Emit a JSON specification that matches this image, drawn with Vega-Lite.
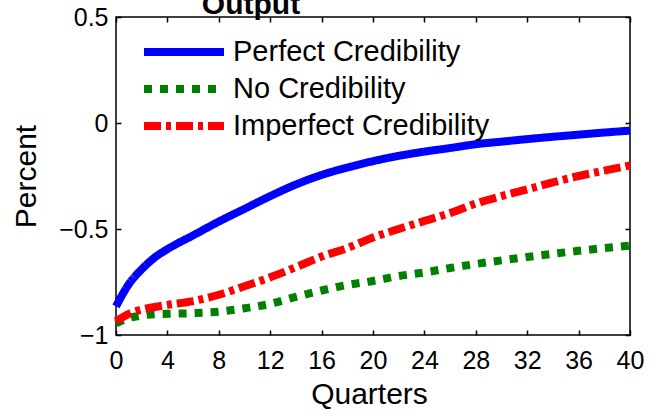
{
  "$schema": "https://vega.github.io/schema/vega-lite/v6.json",
  "width": 514,
  "height": 318,
  "autosize": {"type": "none"},
  "padding": {"left": 116, "top": 17, "right": 29, "bottom": 76},
  "background": "white",
  "config": {
    "view": {"stroke": "black", "strokeWidth": 1.5},
    "font": "Liberation Sans"
  },
  "title": {
    "text": "Output",
    "fontSize": 30,
    "fontWeight": "bold",
    "font": "Liberation Sans",
    "color": "black",
    "anchor": "middle",
    "dx": -122,
    "baseline": "alphabetic",
    "offset": 0,
    "dy": 39
  },
  "data": {
    "values": [
      {"series": "Perfect Credibility", "q": 0, "value": -0.865},
      {"series": "Perfect Credibility", "q": 1, "value": -0.76},
      {"series": "Perfect Credibility", "q": 2, "value": -0.69},
      {"series": "Perfect Credibility", "q": 3, "value": -0.635},
      {"series": "Perfect Credibility", "q": 4, "value": -0.595},
      {"series": "Perfect Credibility", "q": 6, "value": -0.53},
      {"series": "Perfect Credibility", "q": 8, "value": -0.465},
      {"series": "Perfect Credibility", "q": 10, "value": -0.405},
      {"series": "Perfect Credibility", "q": 12, "value": -0.345},
      {"series": "Perfect Credibility", "q": 14, "value": -0.29},
      {"series": "Perfect Credibility", "q": 16, "value": -0.245},
      {"series": "Perfect Credibility", "q": 18, "value": -0.21},
      {"series": "Perfect Credibility", "q": 20, "value": -0.18},
      {"series": "Perfect Credibility", "q": 22, "value": -0.155},
      {"series": "Perfect Credibility", "q": 24, "value": -0.135},
      {"series": "Perfect Credibility", "q": 26, "value": -0.118},
      {"series": "Perfect Credibility", "q": 28, "value": -0.1},
      {"series": "Perfect Credibility", "q": 30, "value": -0.088},
      {"series": "Perfect Credibility", "q": 32, "value": -0.076},
      {"series": "Perfect Credibility", "q": 34, "value": -0.065},
      {"series": "Perfect Credibility", "q": 36, "value": -0.055},
      {"series": "Perfect Credibility", "q": 38, "value": -0.045},
      {"series": "Perfect Credibility", "q": 40, "value": -0.036},
      {"series": "No Credibility", "q": 0, "value": -0.945},
      {"series": "No Credibility", "q": 1, "value": -0.92},
      {"series": "No Credibility", "q": 2, "value": -0.908},
      {"series": "No Credibility", "q": 3, "value": -0.902},
      {"series": "No Credibility", "q": 4, "value": -0.9},
      {"series": "No Credibility", "q": 6, "value": -0.897},
      {"series": "No Credibility", "q": 8, "value": -0.89},
      {"series": "No Credibility", "q": 10, "value": -0.874},
      {"series": "No Credibility", "q": 12, "value": -0.853},
      {"series": "No Credibility", "q": 14, "value": -0.82},
      {"series": "No Credibility", "q": 16, "value": -0.79},
      {"series": "No Credibility", "q": 18, "value": -0.764},
      {"series": "No Credibility", "q": 20, "value": -0.745},
      {"series": "No Credibility", "q": 22, "value": -0.722},
      {"series": "No Credibility", "q": 24, "value": -0.705},
      {"series": "No Credibility", "q": 26, "value": -0.684},
      {"series": "No Credibility", "q": 28, "value": -0.665},
      {"series": "No Credibility", "q": 30, "value": -0.648},
      {"series": "No Credibility", "q": 32, "value": -0.632},
      {"series": "No Credibility", "q": 34, "value": -0.617},
      {"series": "No Credibility", "q": 36, "value": -0.603},
      {"series": "No Credibility", "q": 38, "value": -0.59},
      {"series": "No Credibility", "q": 40, "value": -0.578},
      {"series": "Imperfect Credibility", "q": 0, "value": -0.935},
      {"series": "Imperfect Credibility", "q": 1, "value": -0.9},
      {"series": "Imperfect Credibility", "q": 2, "value": -0.88},
      {"series": "Imperfect Credibility", "q": 3, "value": -0.868},
      {"series": "Imperfect Credibility", "q": 4, "value": -0.858},
      {"series": "Imperfect Credibility", "q": 6, "value": -0.84},
      {"series": "Imperfect Credibility", "q": 8, "value": -0.81},
      {"series": "Imperfect Credibility", "q": 10, "value": -0.77},
      {"series": "Imperfect Credibility", "q": 12, "value": -0.728},
      {"series": "Imperfect Credibility", "q": 14, "value": -0.68},
      {"series": "Imperfect Credibility", "q": 16, "value": -0.63},
      {"series": "Imperfect Credibility", "q": 18, "value": -0.59},
      {"series": "Imperfect Credibility", "q": 20, "value": -0.54},
      {"series": "Imperfect Credibility", "q": 22, "value": -0.5},
      {"series": "Imperfect Credibility", "q": 24, "value": -0.462},
      {"series": "Imperfect Credibility", "q": 26, "value": -0.425},
      {"series": "Imperfect Credibility", "q": 28, "value": -0.38},
      {"series": "Imperfect Credibility", "q": 30, "value": -0.345},
      {"series": "Imperfect Credibility", "q": 32, "value": -0.313},
      {"series": "Imperfect Credibility", "q": 34, "value": -0.28},
      {"series": "Imperfect Credibility", "q": 36, "value": -0.25},
      {"series": "Imperfect Credibility", "q": 38, "value": -0.225},
      {"series": "Imperfect Credibility", "q": 40, "value": -0.2}
    ]
  },
  "resolve": {"axis": {"x": "independent", "y": "independent"}},
  "layer": [
    {
      "mark": {"type": "line", "strokeWidth": 8, "interpolate": "monotone", "strokeCap": "butt"},
      "encoding": {
        "x": {
          "field": "q", "type": "quantitative",
          "scale": {"domain": [0, 40], "nice": false, "zero": false},
          "axis": {
            "values": [0, 4, 8, 12, 16, 20, 24, 28, 32, 36, 40],
            "tickSize": -5, "tickColor": "black", "tickWidth": 1.5,
            "domain": false, "grid": false,
            "labelFontSize": 25, "labelFont": "Liberation Sans", "labelColor": "black",
            "labelPadding": 18, "labelFlush": false,
            "title": "Quarters", "titleFontSize": 30, "titleFont": "Liberation Sans",
            "titleFontWeight": "normal", "titleColor": "black",
            "titleBaseline": "alphabetic", "titleX": 253, "titleY": 68
          }
        },
        "y": {
          "field": "value", "type": "quantitative",
          "scale": {"domain": [-1, 0.5], "nice": false, "zero": false},
          "axis": {
            "values": [-1, -0.5, 0, 0.5], "format": "~g",
            "tickSize": -5, "tickColor": "black", "tickWidth": 1.5,
            "domain": false, "grid": false,
            "labelFontSize": 25, "labelFont": "Liberation Sans", "labelColor": "black",
            "labelPadding": 13,
            "title": "Percent", "titleFontSize": 30, "titleFont": "Liberation Sans",
            "titleFontWeight": "normal", "titleColor": "black",
            "titleAngle": -90, "titleBaseline": "alphabetic", "titleAlign": "center",
            "titleX": -81, "titleY": 159
          }
        },
        "color": {
          "field": "series", "type": "nominal",
          "scale": {
            "domain": ["Perfect Credibility", "No Credibility", "Imperfect Credibility"],
            "range": ["#0000FF", "#008000", "#FF0000"]
          },
          "legend": {
            "orient": "none", "legendX": 24, "legendY": 16.5,
            "title": null, "padding": 0, "clipHeight": 37,
            "symbolType": "stroke", "symbolSize": 6400, "symbolStrokeWidth": 8,
            "labelFontSize": 29, "labelFont": "Liberation Sans", "labelColor": "black",
            "labelOffset": 5, "rowPadding": 0, "labelLimit": 400
          }
        },
        "strokeDash": {
          "field": "series", "type": "nominal",
          "scale": {
            "domain": ["Perfect Credibility", "No Credibility", "Imperfect Credibility"],
            "range": [[1, 0], [8, 8], [17, 5, 5, 5]]
          },
          "legend": {
            "orient": "none", "legendX": 24, "legendY": 16.5,
            "title": null, "padding": 0, "clipHeight": 37,
            "symbolType": "stroke", "symbolSize": 6400, "symbolStrokeWidth": 8,
            "labelFontSize": 29, "labelFont": "Liberation Sans", "labelColor": "black",
            "labelOffset": 5, "rowPadding": 0, "labelLimit": 400
          }
        }
      }
    },
    {
      "mark": {"type": "point", "opacity": 0},
      "encoding": {
        "x": {
          "field": "q", "type": "quantitative",
          "axis": {
            "orient": "top",
            "values": [0, 4, 8, 12, 16, 20, 24, 28, 32, 36, 40],
            "tickSize": -5, "tickColor": "black", "tickWidth": 1.5,
            "domain": false, "grid": false, "labels": false, "title": null
          }
        },
        "y": {
          "field": "value", "type": "quantitative",
          "axis": {
            "orient": "right",
            "values": [-1, -0.5, 0, 0.5],
            "tickSize": -5, "tickColor": "black", "tickWidth": 1.5,
            "domain": false, "grid": false, "labels": false, "title": null
          }
        }
      }
    }
  ]
}
